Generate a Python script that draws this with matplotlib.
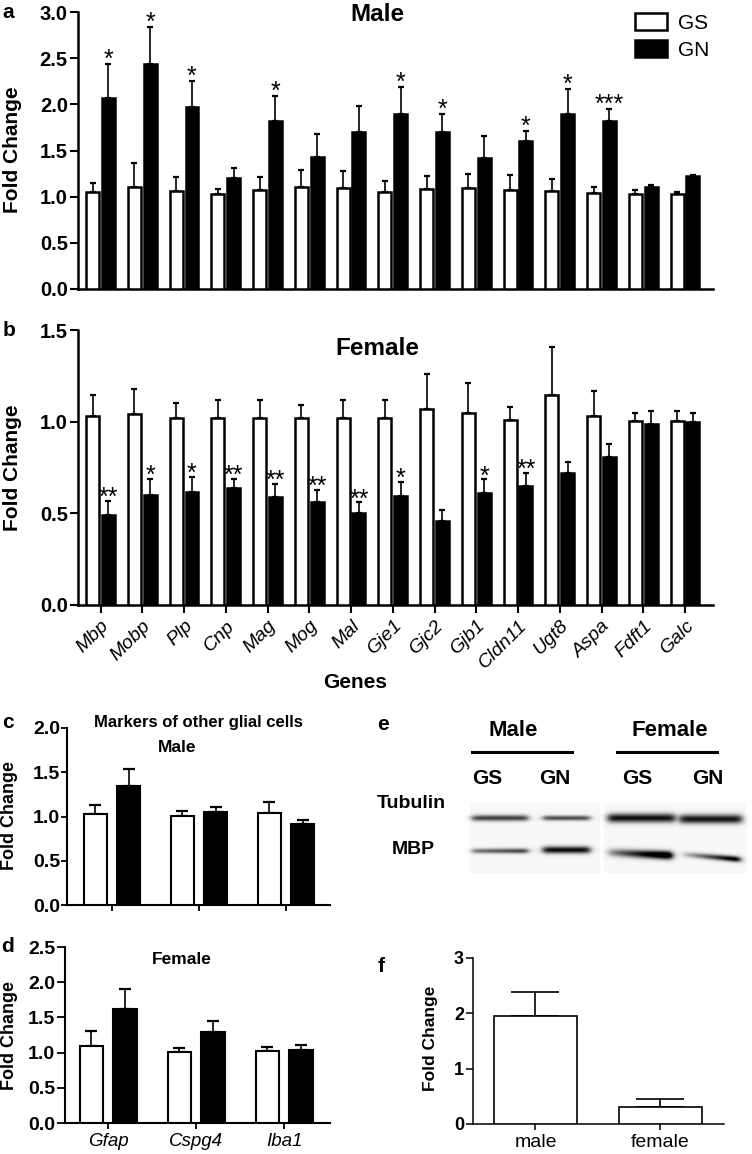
import numpy as np
import matplotlib.pyplot as plt

plt.rcParams['font.family'] = ['Liberation Sans', 'DejaVu Sans']

# ---- data -------------------------------------------------------------
genes = ["Mbp", "Mobp", "Plp", "Cnp", "Mag", "Mog", "Mal", "Gje1", "Gjc2",
         "Gjb1", "Cldn11", "Ugt8", "Aspa", "Fdft1", "Galc"]

male_gs = [1.05, 1.11, 1.06, 1.03, 1.07, 1.11, 1.09, 1.05, 1.08, 1.09, 1.07, 1.06, 1.04, 1.03, 1.03]
male_gs_err = [0.10, 0.25, 0.15, 0.05, 0.14, 0.18, 0.19, 0.12, 0.14, 0.16, 0.16, 0.13, 0.07, 0.04, 0.02]
male_gn = [2.07, 2.44, 1.97, 1.20, 1.82, 1.43, 1.70, 1.90, 1.70, 1.42, 1.60, 1.89, 1.82, 1.10, 1.22]
male_gn_err = [0.37, 0.40, 0.28, 0.11, 0.27, 0.25, 0.28, 0.29, 0.19, 0.24, 0.11, 0.28, 0.13, 0.03, 0.02]
male_sig = ["*", "*", "*", "", "*", "", "", "*", "*", "", "*", "*", "***", "", ""]

female_gs = [1.03, 1.04, 1.02, 1.02, 1.02, 1.02, 1.02, 1.02, 1.07, 1.05, 1.01, 1.145, 1.03, 1.005, 1.005]
female_gs_err = [0.115, 0.14, 0.08, 0.10, 0.10, 0.07, 0.10, 0.10, 0.19, 0.16, 0.07, 0.265, 0.14, 0.04, 0.055]
female_gn = [0.49, 0.60, 0.615, 0.636, 0.59, 0.56, 0.50, 0.595, 0.46, 0.61, 0.65, 0.72, 0.81, 0.99, 1.00]
female_gn_err = [0.08, 0.09, 0.085, 0.054, 0.07, 0.07, 0.06, 0.075, 0.06, 0.075, 0.07, 0.06, 0.066, 0.07, 0.045]
female_sig = ["**", "*", "*", "**", "**", "**", "**", "*", "", "*", "**", "", "", "", ""]

glia = ["Gfap", "Cspg4", "Iba1"]
glia_male_gs = [1.03, 1.01, 1.04]
glia_male_gs_err = [0.10, 0.05, 0.12]
glia_male_gn = [1.34, 1.05, 0.91]
glia_male_gn_err = [0.20, 0.06, 0.05]
glia_female_gs = [1.09, 1.01, 1.02]
glia_female_gs_err = [0.21, 0.05, 0.06]
glia_female_gn = [1.62, 1.29, 1.03]
glia_female_gn_err = [0.29, 0.16, 0.08]

wb_groups = ["male", "female"]
wb_mbp = [1.95, 0.31]
wb_mbp_err = [0.44, 0.15]

blot_lanes = ["GS", "GN", "GS", "GN"]
tubulin_density = [0.72, 0.68, 0.92, 0.90]
mbp_density = [0.62, 0.95, 0.92, 0.70]

W, H = 752, 1154
fig = plt.figure(figsize=(W / 100, H / 100), dpi=100)


def px_axes(x0, y_top, x1, y_bot):
    return fig.add_axes([x0 / W, 1 - y_bot / H, (x1 - x0) / W, (y_bot - y_top) / H])


def ftext(x, y, s, **kw):
    fig.text(x / W, 1 - y / H, s, ha=kw.pop("ha", "center"), va=kw.pop("va", "center"), **kw)


def style(ax, lw, tlen, tw, fs, pad):
    for s in ["top", "right"]:
        ax.spines[s].set_visible(False)
    for s in ["left", "bottom"]:
        ax.spines[s].set_linewidth(lw)
    ax.tick_params(axis="y", length=tlen, width=tw, labelsize=fs, pad=pad)
    for lab in ax.get_yticklabels():
        lab.set_fontweight("bold")


def pairs(ax, gs, gse, gn, gne, off, w, lw, cap, elw):
    x = np.arange(len(gs))
    b1 = ax.bar(x - off, gs, w, color="white", edgecolor="black", linewidth=lw, zorder=3)
    b2 = ax.bar(x + off, gn, w, color="black", edgecolor="black", linewidth=lw, zorder=3)
    for xx, v, e in [(x - off, gs, gse), (x + off, gn, gne)]:
        ax.errorbar(xx, v, yerr=[np.zeros(len(v)), e], fmt="none", ecolor="black",
                    elinewidth=elw, capsize=cap, capthick=elw + 0.4, zorder=2)
    return x, b1, b2


def stars(ax, x, vals, errs, sig, dy):
    for xi, v, e, s in zip(x, vals, errs, sig):
        if s:
            ax.annotate(s, (xi, v + e), xytext=(0, dy), textcoords="offset points",
                        ha="center", va="baseline", fontsize=18)


# ---- a: male ----------------------------------------------------------
ax_a = px_axes(78, 12, 713, 289)
x, b1, b2 = pairs(ax_a, male_gs, male_gs_err, male_gn, male_gn_err, 0.19, 0.31, 1.8, 2.5, 1.2)
stars(ax_a, x + 0.19, male_gn, male_gn_err, male_sig, -2)
ax_a.set_xlim(-0.54, 14.67)
ax_a.set_ylim(0, 3.0)
ax_a.set_yticks(np.arange(0, 3.01, 0.5), [f"{v:.1f}" for v in np.arange(0, 3.01, 0.5)])
ax_a.set_xticks([])
style(ax_a, 1.8, 5.8, 1.5, 14.5, 1.5)
ax_a.text(0.471, 0.99, "Male", transform=ax_a.transAxes, ha="center", va="center",
          fontsize=17.5, fontweight="bold")
ax_a.legend([b1, b2], ["GS", "GN"], loc="upper left", bbox_to_anchor=(635 / W, 1 - 13 / H),
            bbox_transform=fig.transFigure, frameon=False, fontsize=15, handlelength=1.55,
            handleheight=0.9, handletextpad=0.5, labelspacing=0.35, borderpad=0, borderaxespad=0)
ftext(13, 150, "Fold Change", rotation=90, fontsize=15, fontweight="bold")

# ---- b: female --------------------------------------------------------
ax_b = px_axes(78, 330, 713, 605)
x, _, _ = pairs(ax_b, female_gs, female_gs_err, female_gn, female_gn_err, 0.19, 0.31, 1.8, 2.5, 1.2)
stars(ax_b, x + 0.19, female_gn, female_gn_err, female_sig, -3)
ax_b.set_xlim(-0.54, 14.67)
ax_b.set_ylim(0, 1.5)
ax_b.set_yticks([0, 0.5, 1.0, 1.5], ["0.0", "0.5", "1.0", "1.5"])
ax_b.set_xticks(x, genes, rotation=45, ha="right", rotation_mode="anchor",
                fontstyle="italic", fontsize=14)
ax_b.tick_params(axis="x", length=5.8, width=1.5, pad=3)
style(ax_b, 1.8, 5.8, 1.5, 14.5, 1.5)
ax_b.text(0.471, 0.931, "Female", transform=ax_b.transAxes, ha="center", va="center",
          fontsize=17.5, fontweight="bold")
ftext(13, 468, "Fold Change", rotation=90, fontsize=15, fontweight="bold")
ftext(355, 682, "Genes", fontsize=15, fontweight="bold")

# ---- c: other glia, male ----------------------------------------------
ax_c = px_axes(67, 728, 330, 905)
x, _, _ = pairs(ax_c, glia_male_gs, glia_male_gs_err, glia_male_gn, glia_male_gn_err,
                0.19, 0.265, 1.5, 4, 1.2)
ax_c.set_xlim(-0.517, 2.506)
ax_c.set_ylim(0, 2.0)
ax_c.set_yticks([0, 0.5, 1.0, 1.5, 2.0], ["0.0", "0.5", "1.0", "1.5", "2.0"])
ax_c.set_xticks(x, ["", "", ""])
ax_c.tick_params(axis="x", length=4, width=1.3)
style(ax_c, 1.5, 4, 1.3, 14, 1)
ftext(198, 723, "Markers of other glial cells", fontsize=12, fontweight="bold")
ftext(177, 748, "Male", fontsize=12.5, fontweight="bold")
ftext(10, 816, "Fold Change", rotation=90, fontsize=13, fontweight="bold")

# ---- d: other glia, female --------------------------------------------
ax_d = px_axes(65, 947, 330, 1123)
x, _, _ = pairs(ax_d, glia_female_gs, glia_female_gs_err, glia_female_gn, glia_female_gn_err,
                0.19, 0.265, 1.5, 4, 1.2)
ax_d.set_xlim(-0.49, 2.52)
ax_d.set_ylim(0, 2.5)
ax_d.set_yticks(np.arange(0, 2.51, 0.5), [f"{v:.1f}" for v in np.arange(0, 2.51, 0.5)])
ax_d.set_xticks(x, glia, fontstyle="italic", fontsize=13.5)
ax_d.tick_params(axis="x", length=4, width=1.3, pad=3)
style(ax_d, 1.5, 5.5, 1.3, 14, 1.5)
ftext(182, 960, "Female", fontsize=12.5, fontweight="bold")
ftext(10, 1035, "Fold Change", rotation=90, fontsize=13, fontweight="bold")

# ---- e: western blot --------------------------------------------------
ax_e = px_axes(465, 795, 750, 880)
gx = np.linspace(465, 750, 855)
gy = np.linspace(795, 880, 255)
X, Y = np.meshgrid(gx, gy)


def band(x0, x1, yc, hh, dark, ramp=0.0, tilt=0.0):
    edge = 1 / (1 + np.exp(-(X - x0) / 2.0)) / (1 + np.exp((X - x1) / 2.0))
    t = (X - x0) / (x1 - x0)
    prof = np.exp(-((Y - yc - tilt * (t - 0.5)) / hh) ** 2)
    return dark * edge * prof * np.clip(1 + ramp * (t - 0.5), 0, None)


img = np.ones_like(X)
img -= 0.03 * ((X > 470) & (X < 600) & (Y > 803) & (Y < 873))
img -= 0.03 * ((X > 604) & (X < 746) & (Y > 803) & (Y < 873))
tub_lanes = [(472, 528, 818, 3.0), (543, 590, 818, 2.5), (608, 675, 818, 4.5), (680, 742, 819, 4.5)]
mbp_lanes = [(472, 528, 851, 2.5, 0.4, 0), (543, 590, 850, 3.5, 0.0, 0),
             (608, 672, 854, 4.0, 1.2, 3), (683, 740, 857, 2.8, 1.4, 5)]
for (x0, x1, yc, hh), d in zip(tub_lanes, tubulin_density):
    img -= band(x0, x1, yc, hh, d)
for (x0, x1, yc, hh, r, tl), d in zip(mbp_lanes, mbp_density):
    img -= band(x0, x1, yc, hh, d, ramp=r, tilt=tl)
ax_e.imshow(np.clip(img, 0, 1), cmap="gray", vmin=0, vmax=1, extent=[465, 750, 880, 795],
            aspect="auto", interpolation="bilinear")
ax_e.set_xlim(465, 750)
ax_e.set_ylim(880, 795)
ax_e.axis("off")

ftext(513, 730, "Male", fontsize=16, fontweight="bold")
ftext(670, 730, "Female", fontsize=16, fontweight="bold")
for xa, xb in [(472, 572), (617, 717)]:
    fig.add_artist(plt.Line2D([xa / W, xb / W], [1 - 752 / H] * 2, color="black", lw=2.2))
for xl, lab in zip([487, 555, 637, 708], blot_lanes):
    ftext(xl, 778, lab, fontsize=15, fontweight="bold")
ftext(377, 803, "Tubulin", ha="left", fontsize=14, fontweight="bold")
ftext(413, 850, "MBP", fontsize=14, fontweight="bold")

# ---- f: quantification ------------------------------------------------
ax_f = px_axes(473, 958, 724, 1124)
xf = np.arange(len(wb_groups))
ax_f.bar(xf, wb_mbp, 0.66, color="white", edgecolor="black", linewidth=1.2, zorder=3)
ax_f.errorbar(xf, wb_mbp, yerr=[np.zeros(2), wb_mbp_err], fmt="none", ecolor="black",
              elinewidth=1.2, capsize=17, capthick=1.2, zorder=2)
ax_f.set_xlim(-0.5, 1.51)
ax_f.set_ylim(0, 3)
ax_f.set_yticks([0, 1, 2, 3], ["0", "1", "2", "3"])
ax_f.set_xticks(xf, wb_groups, fontsize=14)
ax_f.tick_params(axis="x", length=4, width=1.1, pad=3)
style(ax_f, 1.1, 5, 1.1, 13, 1.5)
ftext(431, 1038, "Fold Change", rotation=90, fontsize=12.5, fontweight="bold")

# ---- panel letters ----------------------------------------------------
for lx, ly, s in [(8, 13, "a"), (9, 330, "b"), (8, 723, "c"), (8, 947, "d"),
                  (383, 725, "e"), (381, 967, "f")]:
    ftext(lx, ly, s, fontsize=15, fontweight="bold")

fig.savefig("out.png", dpi=100)
